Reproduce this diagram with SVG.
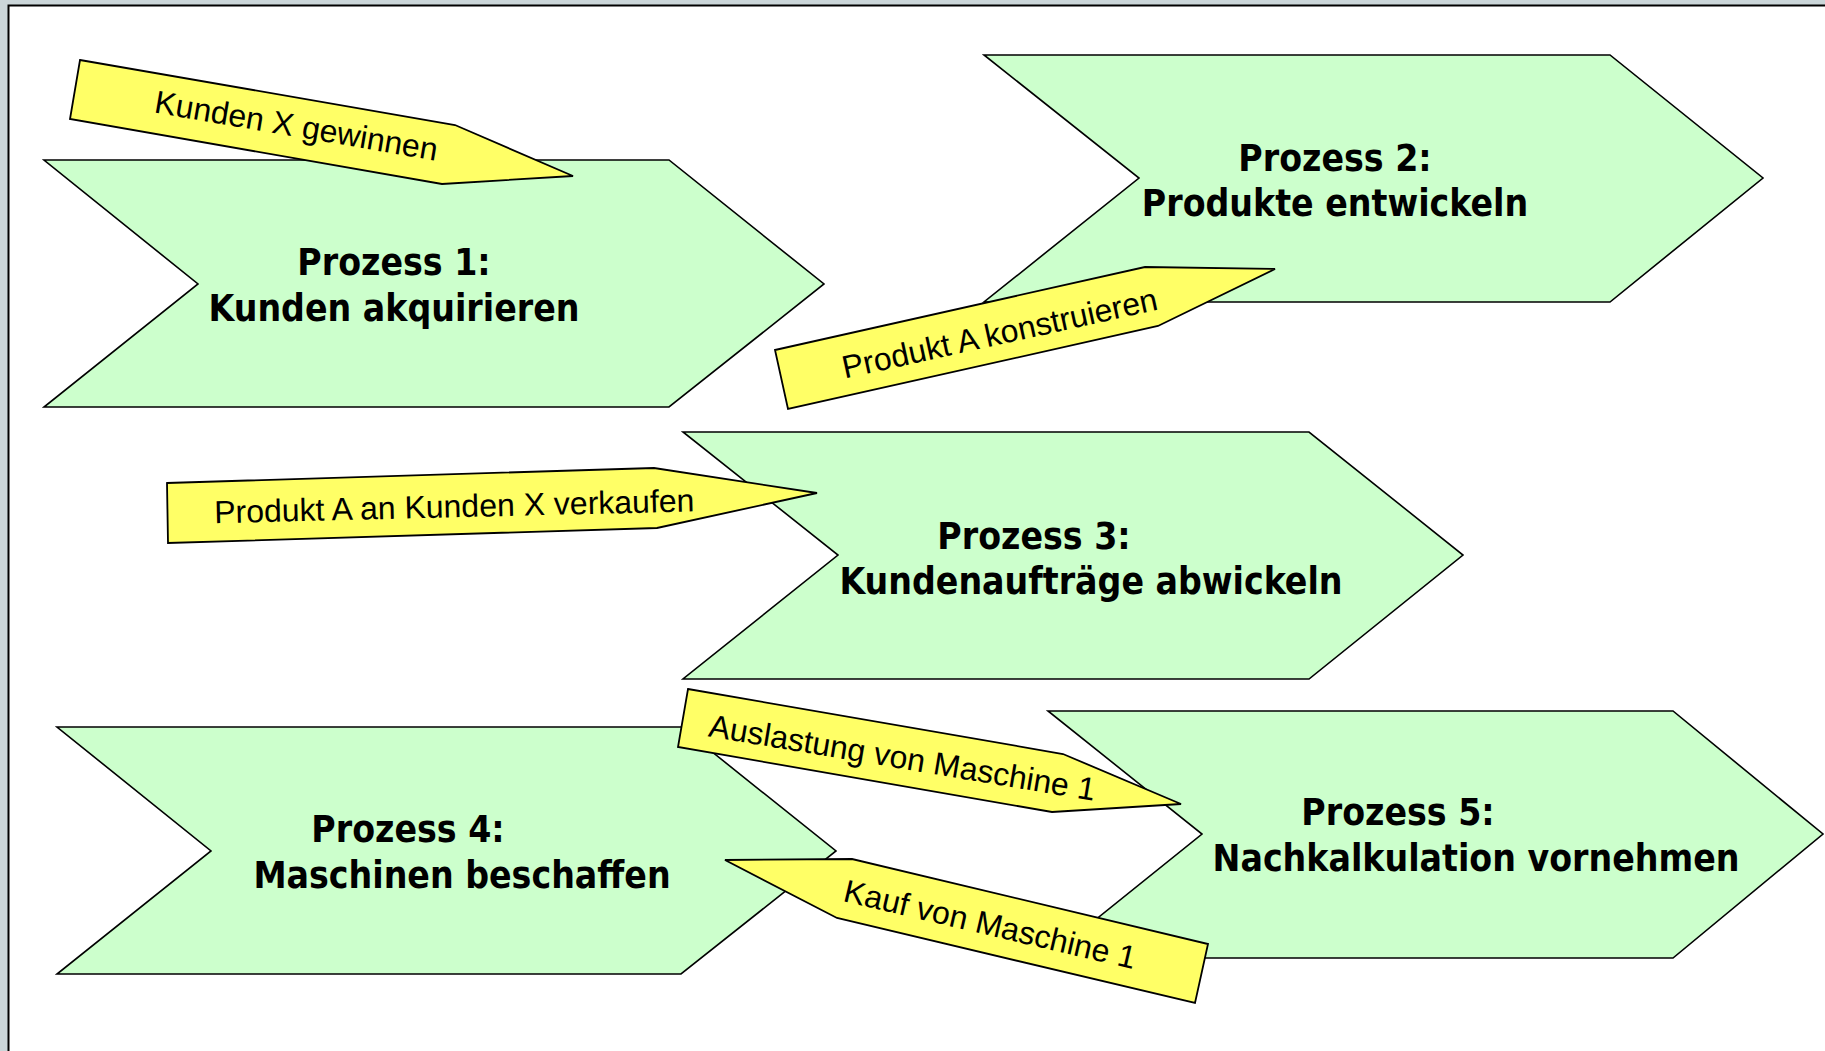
<svg xmlns="http://www.w3.org/2000/svg" width="1825" height="1051" viewBox="0 0 1825 1051">
<style>
.proc{fill:#CCFFCC;stroke:#000;stroke-width:1.6;stroke-linejoin:miter}
.flow{fill:#FFFF66;stroke:#000;stroke-width:1.8;stroke-linejoin:miter}
.pt{font-family:"DejaVu Sans Condensed","DejaVu Sans",sans-serif;font-stretch:condensed;font-weight:bold;font-size:37px;fill:#000;text-anchor:middle}
.ft{font-family:"Liberation Sans",Arial,sans-serif;font-size:32px;fill:#000;text-anchor:middle}
</style>
<rect x="0" y="0" width="1825" height="1051" fill="#CBD6D9"/>
<rect x="8" y="5" width="1817" height="1046" fill="#FFFFFF"/>
<path d="M8.5 1051 V5.5 H1825" fill="none" stroke="#000" stroke-width="2"/>

<g id="prozess1">
<polygon class="proc" points="44,160 669,160 824,284 669,407 44,407 198,284"/>
<text class="pt" x="394" y="275">Prozess 1:</text>
<text class="pt" x="394" y="321">Kunden akquirieren</text>
</g>
<g id="prozess2">
<polygon class="proc" points="984,55 1610,55 1763,178 1610,302 984,302 1139,178"/>
<text class="pt" x="1335" y="171">Prozess 2:</text>
<text class="pt" x="1335" y="216">Produkte entwickeln</text>
</g>
<g id="prozess3">
<polygon class="proc" points="683,432 1309,432 1463,555 1309,679 683,679 838,555"/>
<text class="pt" x="1034" y="549">Prozess 3:</text>
<text class="pt" x="1091" y="594">Kundenaufträge abwickeln</text>
</g>
<g id="prozess4">
<polygon class="proc" points="57,727 681,727 836,851 681,974 57,974 211,851"/>
<text class="pt" x="408" y="842">Prozess 4:</text>
<text class="pt" x="462" y="888">Maschinen beschaffen</text>
</g>
<g id="prozess5">
<polygon class="proc" points="1048,711 1673,711 1823,834 1673,958 1048,958 1202,834"/>
<text class="pt" x="1398" y="825">Prozess 5:</text>
<text class="pt" x="1476" y="871">Nachkalkulation vornehmen</text>
</g>

<g id="connectors">
<g id="flow-kunden-gewinnen">
<polygon class="flow" points="80,60 455,125 573,176 442,184 70,119"/>
<text class="ft" x="294.5" y="136.5" transform="rotate(9.7 294.5 136.5)">Kunden X gewinnen</text>
</g>
<g id="flow-produkt-konstruieren">
<polygon class="flow" points="775,350 1145,267 1275,269 1158,326 788,409"/>
<text class="ft" x="1002" y="344" transform="rotate(-12.4 1002 344)">Produkt A konstruieren</text>
</g>
<g id="flow-produkt-verkaufen">
<polygon class="flow" points="167,483 654,468 817,493 657,528 168,543"/>
<text class="ft" x="454.5" y="517.3" transform="rotate(-1.4 454.5 517.3)">Produkt A an Kunden X verkaufen</text>
</g>
<g id="flow-auslastung">
<polygon class="flow" points="688,689 1063,754 1181,804 1052,812 678,747"/>
<text class="ft" x="900.5" y="768.5" transform="rotate(9.5 900.5 768.5)">Auslastung von Maschine 1</text>
</g>
<g id="flow-kauf">
<polygon class="flow" points="725,860 852,859 1208,944 1195,1003 837,918"/>
<text class="ft" x="987.5" y="935" transform="rotate(13.2 987.5 935)">Kauf von Maschine 1</text>
</g>
</g>
</svg>
